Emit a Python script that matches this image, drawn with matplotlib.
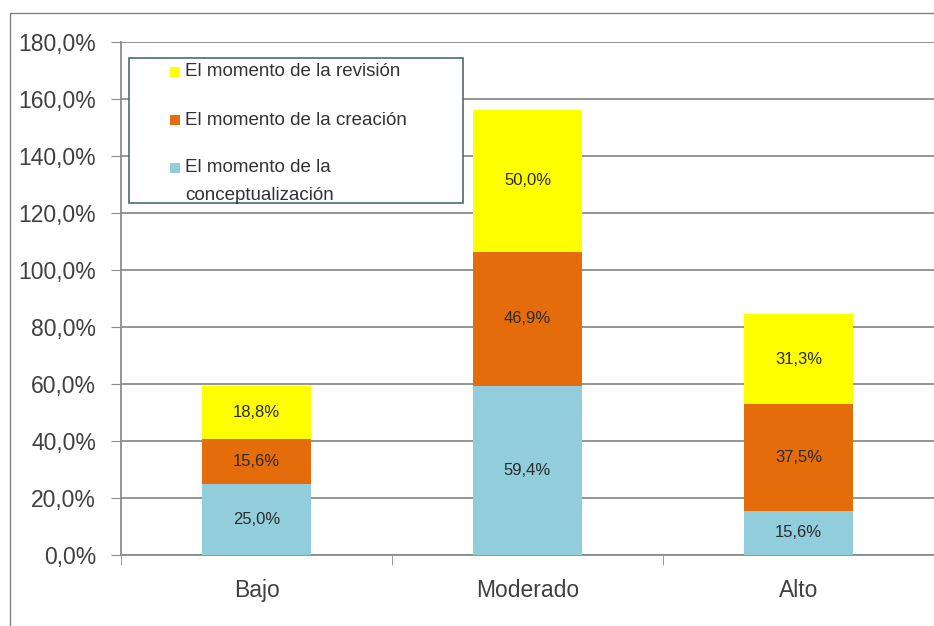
import matplotlib.pyplot as plt
from matplotlib.patches import Rectangle
import numpy as np

plt.rcParams['font.family'] = ['Liberation Sans', 'DejaVu Sans']

categories = ['Bajo', 'Moderado', 'Alto']
conceptualizacion = [25.0, 59.4, 15.6]
creacion = [15.6, 46.9, 37.5]
revision = [18.8, 50.0, 31.3]
series_names = ['El momento de la\nconceptualización',
                'El momento de la creación',
                'El momento de la revisión']
colors = ['#92CDDC', '#E46C0A', '#FFFF00']

fig = plt.figure(figsize=(9.34, 6.26), dpi=100)
W, H = 934, 626

# outer chart frame
fig.patches.append(Rectangle((10 / W, -0.1), 1.2, 1 - 13 / H + 0.1,
                             transform=fig.transFigure, fill=False,
                             edgecolor='#808080', linewidth=1.0))

ax = fig.add_axes([121 / W, 1 - 555 / H, (W - 121) / W, (555 - 42) / H])
x = np.arange(len(categories))
width = 0.4

bottom = np.zeros(len(categories))
for vals, col in zip([conceptualizacion, creacion, revision], colors):
    ax.bar(x, vals, width, bottom=bottom, color=col, zorder=3)
    for xi, b, v in zip(x, bottom, vals):
        ax.text(xi, b + v / 2, f"{v:.1f}%".replace('.', ','),
                ha='center', va='center', fontsize=12, color='#2b2b2b',
                zorder=4)
    bottom += np.array(vals)

ax.set_ylim(0, 180)
ax.set_xlim(-0.5, -0.5 + (W - 121) / 276)
yt = np.arange(0, 181, 20)
ax.set_yticks(yt)
ax.set_yticklabels([f"{v:.1f}%".replace('.', ',') for v in yt],
                   fontsize=16.5, color='#404040')
ax.yaxis.grid(True, color='#8c8c8c', linewidth=1.3, zorder=0)
ax.tick_params(axis='y', length=7, color='#8c8c8c', pad=11)

ax.set_xticks(x)
ax.set_xticklabels(categories, fontsize=16.5, color='#404040')
ax.tick_params(axis='x', length=0, pad=17)
# category boundary ticks
ax.set_xticks(np.arange(-0.5, 3, 1), minor=True)
ax.tick_params(axis='x', which='minor', length=7, color='#8c8c8c')

for s in ['top', 'right']:
    ax.spines[s].set_visible(False)
for s in ['left', 'bottom']:
    ax.spines[s].set_color('#8c8c8c')
    ax.spines[s].set_linewidth(1.3)

# legend, drawn by hand so the square sits on the first line of a wrapped label
fig.patches.append(Rectangle((129 / W, 1 - 203 / H), (463 - 129) / W, (203 - 58) / H,
                             transform=fig.transFigure, facecolor='white',
                             edgecolor='#4d6b6b', linewidth=1.2, zorder=5))
row_y = [72, 120, 168]
for ry, i in zip(row_y, [2, 1, 0]):
    fig.patches.append(Rectangle((170 / W, 1 - (ry + 5) / H), 10 / W, 10 / H,
                                 transform=fig.transFigure, facecolor=colors[i],
                                 edgecolor='none', zorder=6))
    for k, line in enumerate(series_names[i].split('\n')):
        fig.text(185 / W, 1 - (ry + 27 * k) / H, line, fontsize=13.5,
                 color='#333333', va='center', ha='left', zorder=6)

fig.savefig('out.png', dpi=100)
